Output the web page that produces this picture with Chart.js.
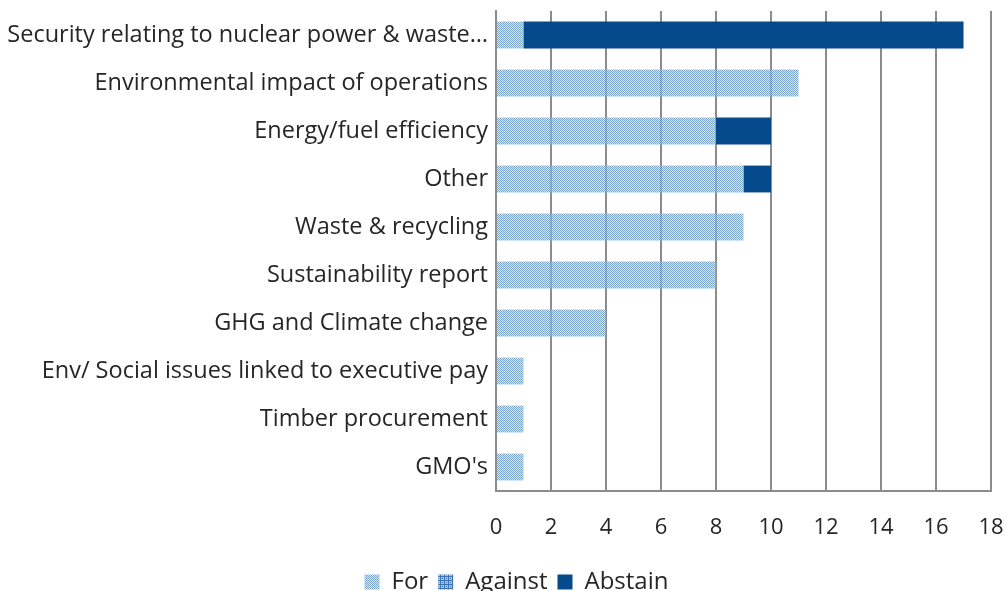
<!DOCTYPE html>
<html>
<head>
<meta charset="utf-8">
<script src="https://cdn.jsdelivr.net/npm/chart.js@4.4.1/dist/chart.umd.min.js"></script>
<style>
  html, body { margin: 0; padding: 0; background: #fff; }
  #wrap { width: 1005px; height: 591px; }
</style>
</head>
<body>
<div id="wrap"><canvas id="voteChart"></canvas></div>
<script>
// Shareholder resolutions by topic
const categories = [
  'Security relating to nuclear power & waste\u2026',
  'Environmental impact of operations',
  'Energy/fuel efficiency',
  'Other',
  'Waste & recycling',
  'Sustainability report',
  'GHG and Climate change',
  'Env/ Social issues linked to executive pay',
  'Timber procurement',
  "GMO's"
];
const forVotes     = [1, 11, 8, 9, 9, 8, 4, 1, 1, 1];
const againstVotes = [0, 0, 0, 0, 0, 0, 0, 0, 0, 0];
const abstainVotes = [16, 0, 2, 1, 0, 0, 0, 0, 0, 0];
const xTicks = [0, 2, 4, 6, 8, 10, 12, 14, 16, 18];

const FONT = '"Open Sans", Lato, sans-serif';
const TEXT = '#262626';

// dotted fill for "For", grid fill for "Against"
function makePattern(kind){
  const c = document.createElement('canvas');
  c.width = 4; c.height = 4;
  const g = c.getContext('2d');
  if (kind === 'for') {
    for (let y = 0; y < 4; y++) for (let x = 0; x < 4; x++) {
      g.fillStyle = ((x + y) % 2 === 0) ? 'rgba(108,152,202,0.9)' : 'rgba(196,215,237,0.55)';
      g.fillRect(x, y, 1, 1);
    }
  } else {
    g.fillStyle = '#a9c3e2';
    g.fillRect(0, 0, 4, 4);
    g.fillStyle = '#3f72b0';
    g.fillRect(0, 0, 4, 1);
    g.fillRect(0, 0, 1, 4);
    g.fillRect(2, 2, 1, 1);
  }
  return g.createPattern(c, 'repeat');
}
const forFill = makePattern('for');
const againstFill = makePattern('against');
const abstainFill = '#054b8b';

// legend in the original sits a bit right of centre
const legendNudge = {
  id: 'legendNudge',
  afterLayout(chart) { if (chart.legend) chart.legend.left += 32; }
};

new Chart(document.getElementById('voteChart'), {
  type: 'bar',
  data: {
    labels: categories,
    datasets: [
      { label: 'For', data: forVotes, backgroundColor: forFill, barPercentage: 0.56, categoryPercentage: 1 },
      { label: 'Against', data: againstVotes, backgroundColor: againstFill, barPercentage: 0.56, categoryPercentage: 1 },
      { label: 'Abstain', data: abstainVotes, backgroundColor: abstainFill, barPercentage: 0.56, categoryPercentage: 1 }
    ]
  },
  plugins: [legendNudge],
  options: {
    indexAxis: 'y',
    responsive: true,
    maintainAspectRatio: false,
    animation: false,
    layout: { padding: { top: 11, right: 4, left: 0, bottom: -13 } },
    plugins: {
      tooltip: { enabled: false },
      legend: {
        position: 'bottom',
        labels: {
          font: { family: FONT, size: 24 },
          color: TEXT,
          boxWidth: 15,
          boxHeight: 15,
          padding: 10
        }
      }
    },
    scales: {
      x: {
        stacked: true,
        min: 0,
        max: 18,
        afterBuildTicks: axis => { axis.ticks = xTicks.map(v => ({ value: v })); },
        ticks: { font: { family: FONT, size: 22 }, color: TEXT, padding: 24 },
        grid: { color: '#8c8c8c', lineWidth: 2, drawTicks: false },
        border: { color: '#8c8c8c', width: 2 },
        afterFit: axis => { axis.height = 69; axis.paddingLeft = 0; axis.paddingRight = 14; }
      },
      y: {
        stacked: true,
        ticks: { font: { family: FONT, size: 23.5 }, color: TEXT, padding: 8 },
        grid: { display: false, drawTicks: false },
        border: { color: '#8c8c8c', width: 2 },
        afterFit: axis => { axis.width = 496; axis.paddingTop = 0; axis.paddingBottom = 0; }
      }
    }
  }
});
</script>
</body>
</html>
